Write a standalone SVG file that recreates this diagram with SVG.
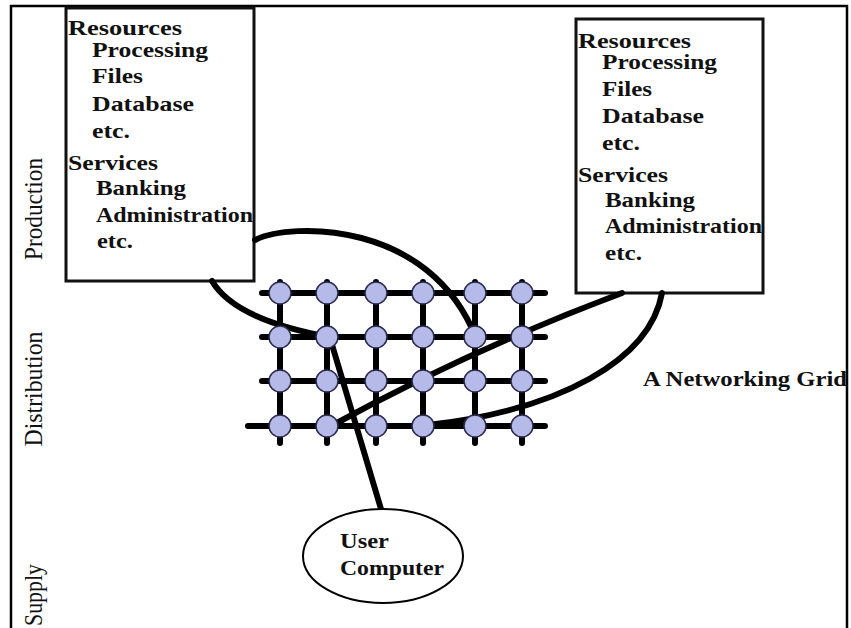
<svg xmlns="http://www.w3.org/2000/svg" width="851" height="628" viewBox="0 0 851 628">
<style>
.frame{stroke:#000;stroke-width:2.5;fill:none}
.box{fill:#fff;stroke:#111;stroke-width:3}
.t{font-family:"Liberation Serif","Times New Roman",serif;font-weight:bold;font-size:21px;fill:#111}
.side{font-family:"Liberation Serif","Times New Roman",serif;font-size:25px;fill:#111}
.gl{stroke:#000;stroke-width:6;stroke-linecap:round;fill:none}
.con{stroke:#000;stroke-width:6;fill:none;stroke-linecap:round}
.nd{fill:#b6bae9;stroke:#2a2a4a;stroke-width:1.5}
.ell{fill:#fff;stroke:#000;stroke-width:2}
</style>
<rect width="851" height="628" fill="#fff"/>
<g id="frame">
<path class="frame" d="M11 628 V6 H847 V628"/>
</g>
<g id="side-labels">
<text class="side" transform="translate(42 209) rotate(-90)" text-anchor="middle" textLength="102" lengthAdjust="spacingAndGlyphs">Production</text>
<text class="side" transform="translate(42 389) rotate(-90)" text-anchor="middle" textLength="115" lengthAdjust="spacingAndGlyphs">Distribution</text>
<text class="side" transform="translate(42 626) rotate(-90)" textLength="62" lengthAdjust="spacingAndGlyphs">Supply</text>
</g>
<g id="left-box">
<rect class="box" x="66" y="8" width="188" height="273"/>
<text class="t" x="68" y="35" textLength="114" lengthAdjust="spacingAndGlyphs">Resources</text>
<text class="t" x="92" y="57" textLength="116" lengthAdjust="spacingAndGlyphs">Processing</text>
<text class="t" x="92" y="83" textLength="51" lengthAdjust="spacingAndGlyphs">Files</text>
<text class="t" x="92" y="111" textLength="102" lengthAdjust="spacingAndGlyphs">Database</text>
<text class="t" x="92" y="138" textLength="38" lengthAdjust="spacingAndGlyphs">etc.</text>
<text class="t" x="68" y="170" textLength="90" lengthAdjust="spacingAndGlyphs">Services</text>
<text class="t" x="96" y="195" textLength="90" lengthAdjust="spacingAndGlyphs">Banking</text>
<text class="t" x="96" y="222" textLength="157" lengthAdjust="spacingAndGlyphs">Administration</text>
<text class="t" x="97" y="248" textLength="36" lengthAdjust="spacingAndGlyphs">etc.</text>
</g>
<g id="right-box">
<rect class="box" x="576" y="19" width="187" height="274"/>
<text class="t" x="578" y="48" textLength="113" lengthAdjust="spacingAndGlyphs">Resources</text>
<text class="t" x="602" y="69" textLength="115" lengthAdjust="spacingAndGlyphs">Processing</text>
<text class="t" x="602" y="96" textLength="50" lengthAdjust="spacingAndGlyphs">Files</text>
<text class="t" x="602" y="123" textLength="102" lengthAdjust="spacingAndGlyphs">Database</text>
<text class="t" x="602" y="150" textLength="38" lengthAdjust="spacingAndGlyphs">etc.</text>
<text class="t" x="578" y="182" textLength="90" lengthAdjust="spacingAndGlyphs">Services</text>
<text class="t" x="605" y="207" textLength="90" lengthAdjust="spacingAndGlyphs">Banking</text>
<text class="t" x="605" y="233" textLength="157" lengthAdjust="spacingAndGlyphs">Administration</text>
<text class="t" x="605" y="260" textLength="37" lengthAdjust="spacingAndGlyphs">etc.</text>
</g>
<g id="grid-lines">
<path class="gl" d="M262 293 H545 M262 337 H545 M262 381 H545 M248 426 H545"/>
<path class="gl" d="M280 282 V443 M327 282 V443 M376 282 V443 M423 282 V443 M475 282 V443 M522 282 V443"/>
</g>
<g id="connectors">
<path class="con" d="M212 281 Q235 320 330 337"/>
<path class="con" d="M255 240 C290 222 430 220 476 338"/>
<path class="con" stroke-width="5" d="M330 338 L381 509"/>
<path class="con" d="M333 425 Q470 350 622 293"/>
<path class="con" d="M662 293 C650 360 560 410 428 425"/>
</g>
<g id="grid-nodes">
<circle class="nd" cx="280" cy="293" r="11"/><circle class="nd" cx="327" cy="293" r="11"/><circle class="nd" cx="376" cy="293" r="11"/><circle class="nd" cx="423" cy="293" r="11"/><circle class="nd" cx="475" cy="293" r="11"/><circle class="nd" cx="522" cy="293" r="11"/>
<circle class="nd" cx="280" cy="337" r="11"/><circle class="nd" cx="327" cy="337" r="11"/><circle class="nd" cx="376" cy="337" r="11"/><circle class="nd" cx="423" cy="337" r="11"/><circle class="nd" cx="475" cy="337" r="11"/><circle class="nd" cx="522" cy="337" r="11"/>
<circle class="nd" cx="280" cy="381" r="11"/><circle class="nd" cx="327" cy="381" r="11"/><circle class="nd" cx="376" cy="381" r="11"/><circle class="nd" cx="423" cy="381" r="11"/><circle class="nd" cx="475" cy="381" r="11"/><circle class="nd" cx="522" cy="381" r="11"/>
<circle class="nd" cx="280" cy="426" r="11"/><circle class="nd" cx="327" cy="426" r="11"/><circle class="nd" cx="376" cy="426" r="11"/><circle class="nd" cx="423" cy="426" r="11"/><circle class="nd" cx="475" cy="426" r="11"/><circle class="nd" cx="522" cy="426" r="11"/>
</g>
<g id="grid-label">
<text class="t" x="643" y="386" textLength="204" lengthAdjust="spacingAndGlyphs">A Networking Grid</text>
</g>
<g id="user-computer">
<ellipse class="ell" cx="383" cy="556" rx="80" ry="47"/>
<text class="t" x="340" y="548" textLength="49" lengthAdjust="spacingAndGlyphs">User</text>
<text class="t" x="340" y="575" textLength="104" lengthAdjust="spacingAndGlyphs">Computer</text>
</g>
</svg>
